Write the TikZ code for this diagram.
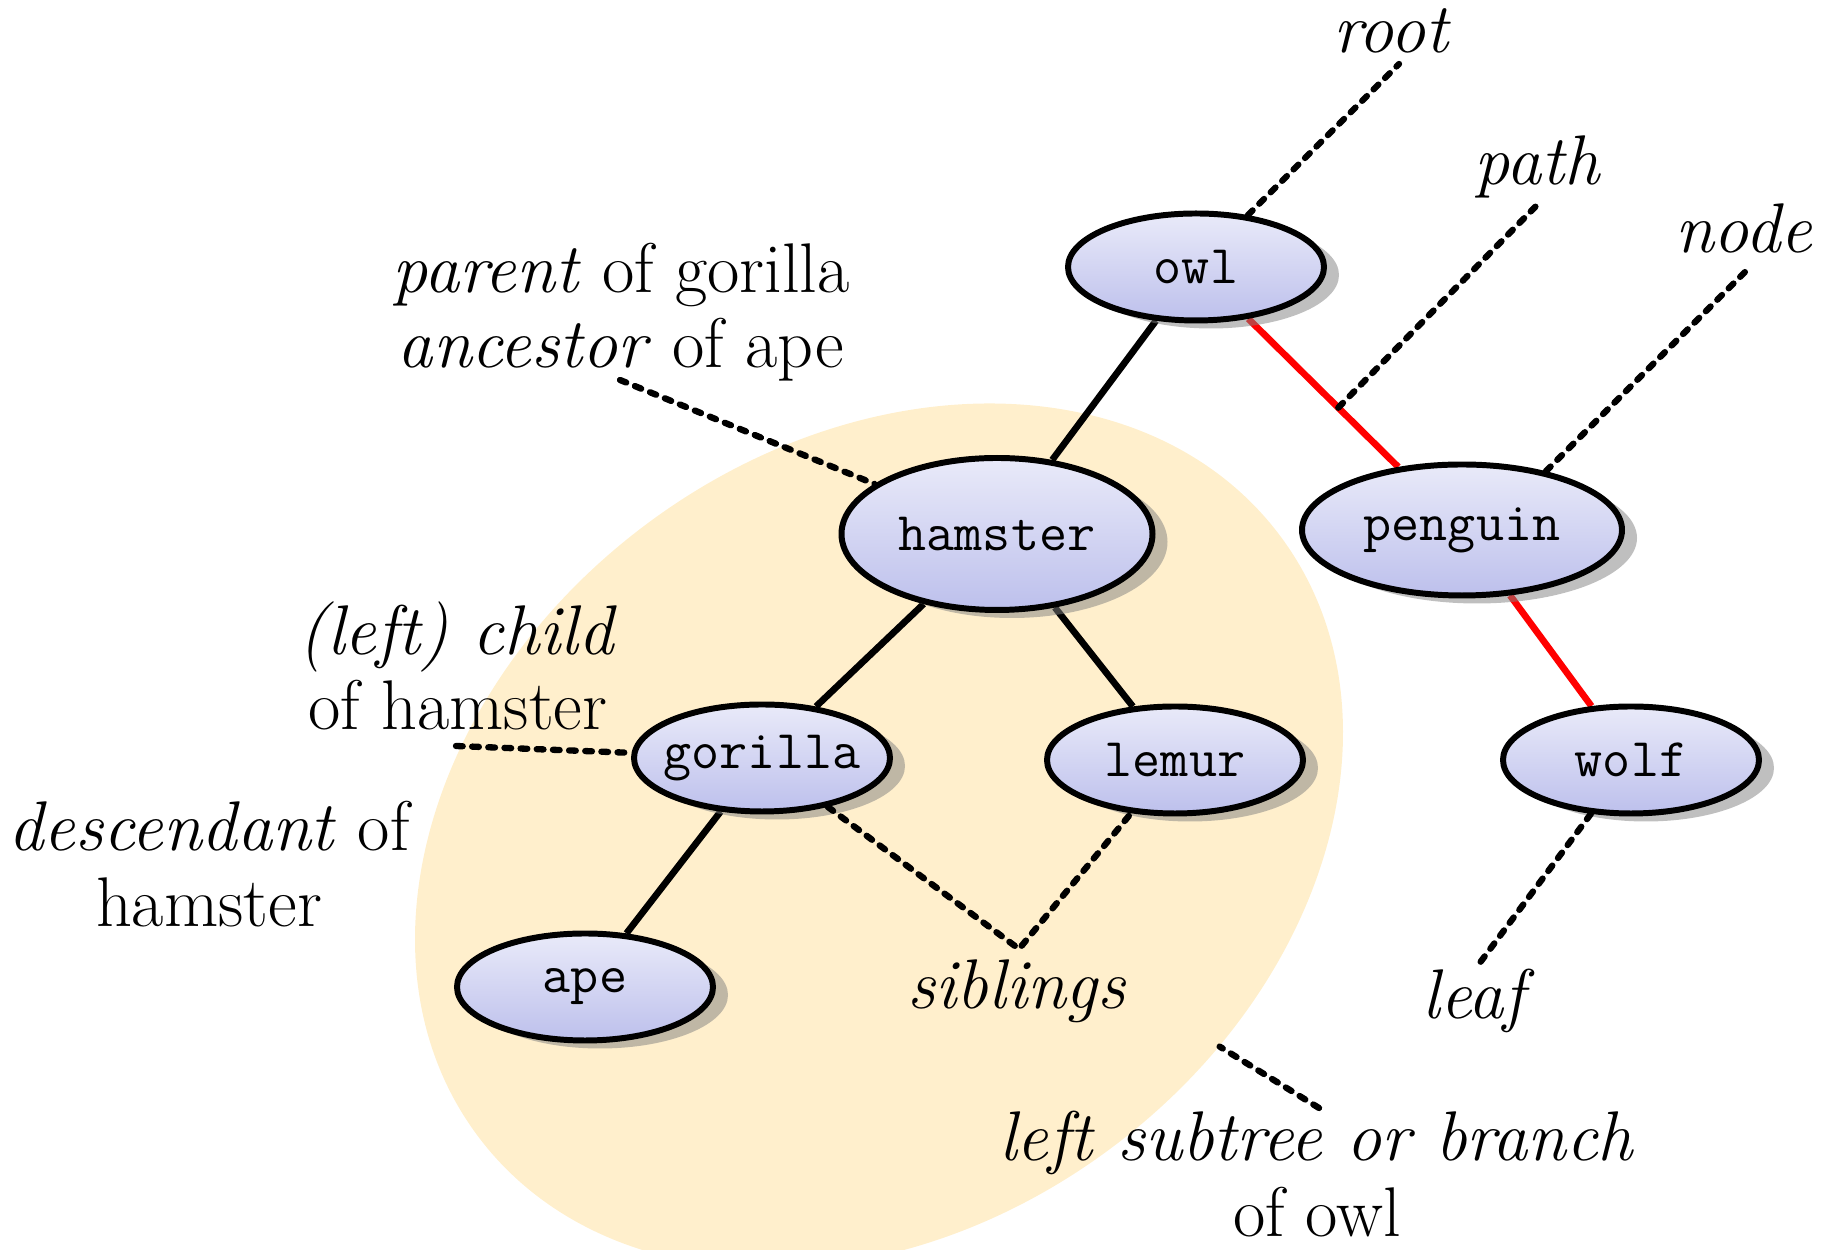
\documentclass[tikz,border=0pt]{standalone}
\usepackage{fontspec}
\usepackage{tikz}
\usetikzlibrary{shapes.geometric}
\usetikzlibrary{shadows}
\pgfdeclarelayer{blobs}
\pgfdeclarelayer{edges}
\pgfsetlayers{blobs,edges,main}

\definecolor{cream}{RGB}{255,239,204}
\definecolor{lavtop}{RGB}{233,234,249}
\definecolor{lavbot}{RGB}{189,192,236}

\tikzset{
  animal/.style={ellipse, draw, line width=1.7pt, inner ysep=0pt, inner xsep=-4pt,
    top color=lavtop, bottom color=lavbot,
    drop shadow={opacity=0.5, shadow xshift=0.15cm, shadow yshift=-0.08cm},
    minimum width=2.56cm, minimum height=1.07cm,
    font=\ttfamily\fontsize{15.5}{18}\selectfont},
  link/.style={line width=1.9pt},
  hot/.style={link, red},
  pointer/.style={line width=1.8pt, dash pattern=on 1.9pt off 2.7pt, line cap=round},
  term/.style={font=\fontsize{20}{21.5}\selectfont, align=center, inner sep=0pt},
}

\begin{document}
\begin{tikzpicture}
    \useasboundingbox (0, 0) rectangle (18.24, 12.5);

    % the tree
    \node [animal] (owl) at (11.96, 9.83) {owl};
    \node [animal, minimum width=3.11cm, minimum height=1.52cm] (hamster) at (9.97, 7.16) {hamster};
    \node [animal, minimum width=3.2cm, minimum height=1.31cm] (penguin) at (14.62, 7.20) {penguin};
    \node [animal] (gorilla) at (7.62, 4.92) {gorilla};
    \node [animal] (lemur) at (11.75, 4.90) {lemur};
    \node [animal] (wolf) at (16.31, 4.90) {wolf};
    \node [animal] (ape) at (5.85, 2.63) {ape};

    % left subtree
    \begin{pgfonlayer}{blobs}
      \node [ellipse, fill=cream, inner sep=0pt, rotate=36.8,
        minimum width=10.02cm, minimum height=7.78cm] (blob) at (8.79, 4.14) {};
    \end{pgfonlayer}

    \begin{pgfonlayer}{edges}
      \draw [link] (owl) -- (hamster);
      \draw [link] (hamster) -- (gorilla);
      \draw [link] (hamster) -- (lemur);
      \draw [link] (gorilla) -- (ape);
      \draw [hot] (owl) -- coordinate[pos=0.6] (onpath) (penguin);
      \draw [hot] (penguin) -- (wolf);
    \end{pgfonlayer}

    % terms
    \node [term, anchor=base] (root) at (13.92, 11.97) {\textit{root}};
    \node [term, anchor=base] (path) at (15.38, 10.65) {\textit{path}};
    \node [term, anchor=base] (nodeterm) at (17.44, 9.97) {\textit{node}};
    \node [term] (parent) at (6.21, 9.38) {\textit{parent} of gorilla\\\textit{ancestor} of ape};
    \node [term] (child) at (4.58, 5.84) {\textit{(left) child}\\of hamster};
    \node [term] (descendant) at (2.09, 3.86) {\textit{descendant} of\\hamster};
    \node [term, anchor=base] (siblings) at (10.17, 2.41) {\textit{siblings}};
    \node [term, anchor=base] (leaf) at (14.79, 2.31) {\textit{leaf}};
    \node [term] (subtree) at (13.17, 0.76) {\textit{left subtree or branch}\\of owl};

    \coordinate (rootc) at (13.99, 11.86);
    \coordinate (pathc) at (15.41, 10.49);
    \coordinate (nodec) at (17.48, 9.81);
    \coordinate (parentc) at (6.20, 8.70);
    \coordinate (childc) at (4.56, 5.04);
    \coordinate (sibc) at (10.19, 3.01);
    \coordinate (leafc) at (14.76, 2.82);
    \coordinate (subc) at (13.19, 1.42);

    % pointers
    \draw [pointer] (owl) -- (rootc);
    \draw [pointer] (onpath) -- (pathc);
    \draw [pointer] (penguin.35) -- (nodec);
    \draw [pointer] (parentc) -- (hamster);
    \draw [pointer] (childc) -- (gorilla);
    \draw [pointer] (gorilla) -- (sibc) -- (lemur);
    \draw [pointer] (wolf) -- (leafc);
    \draw [pointer] (subc) -- (blob);

  \end{tikzpicture}
\end{document}
